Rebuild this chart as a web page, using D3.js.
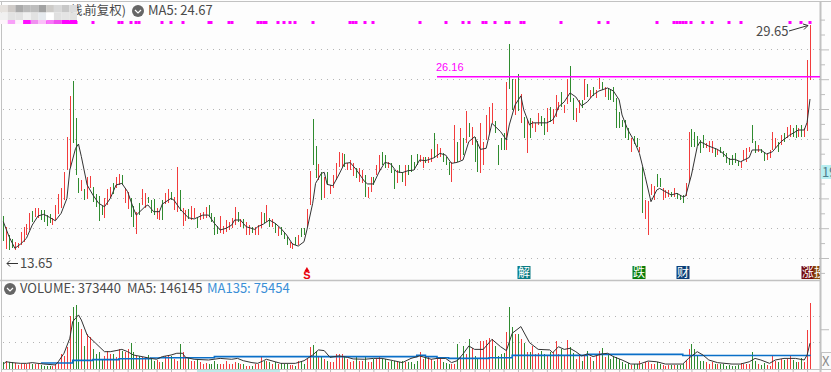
<!DOCTYPE html>
<html lang="zh">
<head>
<meta charset="utf-8">
<title>K-line</title>
<script src="https://d3js.org/d3.v7.min.js"></script>
<style>
  html, body { margin: 0; padding: 0; background: #fdfdfd; overflow: hidden; }
  svg { display: block; font-family: "Noto Sans CJK SC", "Noto Sans", sans-serif; }
  .axis path, .axis line { stroke: #bdbdbd; }
  .axis path { display: none; }
</style>
</head>
<body>
<svg id="chart" width="831" height="372"></svg>
<script>
// daily high / low
const highs = [
  16.82,16.06,15.54,15.25,15.09,14.98,15.77,16.06,16.28,17.04,
  17.18,17.33,17.33,17.22,17.22,16.88,16.93,16.66,17.56,18.29,
  18.67,19.75,22.14,24.88,25.89,23.40,19.35,19.23,18.61,19.46,
  19.50,18.79,18.29,18.16,17.49,18.00,18.63,18.79,19.01,19.46,
  19.64,19.57,18.67,18.45,18.00,17.49,17.11,17.71,18.61,18.34,
  18.11,17.89,17.94,17.33,17.18,17.89,18.38,18.63,18.45,18.07,
  20.08,18.56,17.33,17.22,17.26,17.49,17.33,16.66,17.00,17.11,
  17.40,17.56,17.00,16.73,16.15,16.82,16.15,16.55,16.44,16.66,
  17.40,17.11,16.59,16.59,16.44,16.21,16.10,16.06,16.21,17.11,
  17.00,17.56,16.66,16.59,16.33,16.10,
  16.06,15.77,15.43,15.09,14.98,15.39,15.54,16.03,16.03,
  17.26,19.86,23.33,21.51,20.28,19.79,19.46,19.79,18.90,19.57,
  20.35,21.09,21.02,20.98,20.35,20.58,20.40,20.02,20.02,19.90,
  19.57,18.79,19.46,19.46,20.24,20.91,21.09,20.91,20.46,
  20.40,19.90,19.90,20.24,19.79,20.24,20.24,20.91,20.46,
  20.96,20.91,20.80,20.75,20.75,21.29,22.37,21.63,21.36,
  21.02,20.80,20.46,20.46,22.92,21.81,22.70,22.03,23.87,
  23.09,22.77,22.14,21.87,23.09,21.81,23.60,24.14,24.41,23.20,
  21.58,22.03,22.37,25.82,28.37,26.02,26.02,26.35,25.01,
  23.47,23.27,23.40,23.20,23.07,23.74,23.54,23.40,24.07,
  24.14,24.00,24.95,24.48,
  25.15,24.27,26.02,26.89,24.74,24.07,24.61,24.61,26.02,25.68,
  25.28,25.48,25.28,26.09,25.82,25.48,25.41,25.28,25.48,24.74,
  23.80,23.27,23.26,22.70,22.03,22.19,22.03,21.47,20.13,17.89,
  17.85,18.94,18.83,19.61,19.35,18.67,18.56,18.56,18.45,18.72,
  18.38,18.23,18.23,19.05,22.48,22.63,22.48,22.19,21.92,22.25,
  21.74,21.87,21.87,21.36,21.29,21.47,21.20,21.02,20.69,20.91,
  21.02,20.53,20.53,21.25,21.36,21.43,22.92,21.87,21.58,21.29,
  21.13,21.02,21.25,22.48,22.03,21.81,22.25,22.37,22.81,22.92,
  22.70,22.92,22.70,22.92,22.70,27.29,29.65
];
const lows = [
  15.16,14.58,14.54,14.65,14.54,14.65,14.87,15.09,15.54,15.88,
  16.44,16.77,16.66,16.55,16.44,16.15,16.33,16.21,16.55,16.98,
  17.33,17.89,19.90,20.02,21.69,19.57,18.38,18.52,17.89,17.94,
  18.67,17.78,17.40,16.50,16.88,16.70,17.56,18.00,18.29,18.67,
  18.90,18.90,17.67,17.26,16.77,16.06,15.61,16.88,17.56,17.33,
  17.67,17.04,16.88,16.59,16.55,16.55,17.62,17.67,17.89,17.22,
  17.11,17.18,16.15,16.50,16.59,16.55,16.66,16.03,16.55,16.59,
  16.66,16.77,16.44,15.54,15.61,15.65,15.61,15.77,15.88,15.99,
  16.21,16.44,16.10,15.99,15.54,15.54,15.65,15.54,15.54,15.99,
  16.33,16.44,16.10,16.10,15.70,15.48,
  15.54,15.25,14.87,14.65,14.58,14.87,14.87,15.43,15.54,
  16.10,17.56,20.24,19.35,19.23,17.89,18.05,18.90,18.29,18.67,
  19.23,20.13,20.13,20.13,19.90,19.90,19.50,19.35,19.08,19.01,
  18.07,18.00,18.45,18.90,19.57,19.79,20.24,20.02,20.02,
  19.68,18.63,19.01,19.73,19.12,18.85,19.57,19.79,19.90,
  20.24,20.46,20.02,20.35,20.35,20.46,20.69,20.69,20.80,
  20.46,20.24,19.57,19.12,20.40,20.46,20.58,20.91,21.69,
  22.14,21.58,20.46,19.79,19.68,20.24,21.92,22.37,23.08,22.37,
  20.24,21.25,21.25,21.27,25.35,23.94,23.60,23.87,23.07,
  22.03,21.02,22.03,22.70,22.48,22.92,22.85,22.25,22.48,
  23.15,23.00,23.47,23.90,
  24.14,23.74,24.34,24.48,23.27,23.13,23.74,24.07,24.61,24.81,
  24.74,24.88,24.74,25.35,25.28,24.81,24.61,24.61,24.48,22.70,
  22.70,22.81,22.03,21.92,21.13,21.65,21.47,21.13,17.04,16.62,
  15.54,18.23,17.89,18.79,18.79,17.89,18.00,18.11,18.07,18.11,
  17.96,17.89,17.67,18.16,19.12,21.47,21.47,21.51,21.02,21.36,
  21.36,21.09,21.02,20.75,20.91,21.02,20.75,20.40,20.24,20.24,
  20.35,20.17,20.02,20.58,20.46,21.09,21.69,21.02,21.13,21.02,
  20.51,20.58,20.69,21.25,21.36,21.13,21.58,21.81,22.03,22.14,
  22.14,22.03,22.14,22.14,22.10,22.53,25.95
];
// 1 = red (up), 0 = green (down)
const ups = [
  0,1,0,0,1,1,1,1,1,1, 0,1,1,0,0,0,0,1,1,1, 1,1,1,1,0,0,0,1,0,1,
  1,0,0,0,0,1,1,1,0,1, 1,0,1,1,0,0,1,0,1,1, 0,0,0,1,1,0,1,1,0,1,
  1,0,1,1,0,1,1,0,1,1, 1,0,0,0,0,1,1,1,1,1, 1,0,1,0,1,1,0,1,1,1,
  0,1,0,1,0,1,
  0,0,0,1,1,0,1,0,0,
  1,1,0,0,1,0,1,0,1,1,
  1,1,1,0,1,1,1,0,1,1,
  0,1,1,0,1,1,0,0,1,
  0,0,1,0,0,1,0,0,0,
  0,1,1,0,1,1,0,1,1,
  0,0,0,1,1,0,1,0,1,
  0,1,0,0,1,1,1,1,1,0,
  0,0,0,1,0,0,1,0,1,
  0,1,0,1,1,1,0,0,1,
  0,1,1,1,
  0,1,1,0,0,1,1,0,1,0,
  1,0,1,1,0,1,0,0,0,0,
  0,0,0,0,1,0,0,1,0,1,
  1,1,1,0,0,1,1,1,0,1,
  0,0,0,1,1,0,0,0,0,0,
  1,1,1,0,1,0,0,0,0,0,
  0,0,1,1,1,1,0,0,1,0,
  0,1,1,1,1,0,1,0,1,1,
  0,0,1,0,1,1,1
];
// volume in thousands of shares
const volumes = [
  38,47,41,38,34,23,28,28,28,34, 26,30,26,23,19,15,19,19,28,41,
  85,75,123,302,349,362,264,226,132,198, 179,113,85,98,57,75,104,85,85,66,
  113,104,94,113,147,94,75,75,66,66, 79,57,47,53,38,41,72,79,75,57,
  47,141,98,66,60,47,47,57,41,28, 34,28,28,47,28,28,28,47,28,28,
  41,34,28,28,19,19,19,28,28,66, 47,47,38,28,38,28,34,28,26,23,
  23,19,47,47,28,57,123,136,104,75, 66,57,47,38,41,85,85,85,75,57,
  41,47,66,47,47,66,41,41,57,57, 75,57,57,41,47,47,41,41,47,41,
  38,38,28,47,94,57,66,72,57,47, 57,57,41,34,28,28,28,141,66,132,
  85,170,117,75,57,160,160,166,174,170, 132,75,85,91,207,349,236,198,198,170,
  147,94,94,132,85,91,104,85,72,94, 94,160,85,113,75,166,123,91,57,75,
  47,75,104,66,47,75,104,117,66,85, 57,75,66,57,38,28,34,23,28,28,
  47,28,41,41,26,26,38,28,23,19, 23,23,23,23,23,26,47,113,141,113,
  75,47,47,41,28,38,28,28,28,28, 19,23,19,19,23,34,28,28,28,94,
  47,28,23,34,23,19,72,47,41,57, 53,57,72,53,41,41,60,41,223,373.44
];
// moving average readings: bar number + value
const ma5Bars = [
  0,2,4,6,8,10,12,14,16,18,20,22,23,25,26,27,29,31,33,35,37,39,41,43,45,46,49,50,52,54,55,58,59,61,62,64,66,69,71,73,75,77,79,80,82,84,87,88,90,92,94,96,
  98,100,102,104,105,107,108,110,111,112,114,116,118,120,122,125,126,128,130,132,134,136,138,140,142,144,146,149,151,153,155,157,159,161,163,165,167,169,172,174,
  175,177,179,180,182,183,186,188,190,191,192,194,196,198,200,202,204,206,209,211,213,214,216,
  218,220,222,224,226,227,229,231,233,235,236,238,240,241,244,247,249,251,253,255,258,259,262,264,266,269,272,275,277,278,279
];
const ma5Values = [
  16.44,15.43,14.65,14.94,15.32,16.21,16.82,16.93,16.73,16.50,17.00,18.00,19.90,21.36,21.65,20.80,18.90,18.23,17.67,17.44,18.00,18.90,19.01,18.45,17.33,16.88,17.44,17.56,17.11,17.11,17.62,18.00,17.89,17.33,17.11,16.70,16.62,16.88,16.88,16.33,15.88,15.99,16.21,16.55,16.55,16.10,15.92,16.10,16.28,16.55,16.33,15.99,
  15.54,14.94,14.80,15.09,15.88,17.67,19.01,19.68,19.75,18.94,18.85,19.57,20.35,20.40,19.95,19.12,18.97,18.97,19.79,20.42,20.31,19.79,19.73,19.86,19.90,20.58,20.53,20.73,21.02,20.91,20.35,20.42,20.58,21.81,22.14,21.29,21.36,23.04,22.48,21.92,
  22.93,24.27,24.88,23.94,22.93,23.07,23.07,23.07,23.27,23.60,24.14,24.48,25.08,24.81,24.21,24.48,24.95,25.21,25.41,25.21,24.61,23.60,22.60,
  21.92,21.02,19.46,17.78,18.56,18.67,18.45,18.23,18.34,18.11,18.16,19.57,21.47,21.81,21.51,21.29,21.02,20.62,20.62,20.46,20.75,21.25,21.25,20.98,21.13,21.81,22.25,22.59,22.59,23.10,24.67
];
const volMa5Bars = [
  0,1,3,6,8,10,14,18,19,21,23,24,26,27,29,32,35,37,39,41,43,45,48,51,53,55,58,60,62,63,66,71,75,79,81,83,86,88,90,91,94,96,
  101,104,107,109,111,113,116,119,121,125,128,131,135,138,141,144,148,150,153,155,157,159,161,163,166,169,172,174,176,179,182,185,189,190,192,
  194,196,198,200,202,204,207,209,211,214,217,220,223,226,229,235,237,240,242,244,247,252,255,258,260,262,265,267,270,274,277,278,279
];
const volMa5Values = [
  28,41,36,32,32,36,28,23,41,89,174,268,306,277,192,145,98,98,104,111,98,79,70,60,55,70,79,89,89,66,55,51,60,55,60,47,36,32,47,55,41,32,
  32,47,79,108,104,66,74,66,57,55,60,60,47,36,60,74,55,60,60,36,47,85,130,111,111,168,126,104,202,240,149,111,108,92,126,
  111,117,98,74,85,70,85,89,70,51,28,28,45,41,28,28,60,98,79,51,36,28,28,41,60,51,32,51,60,60,51,79,146.145
];
const volMa135Bars = [13,24,31,40,51,54,73,143,146,150,154,168,176,202,235,279];
const volMa135Values = [34,49,53,58,62,64,70,77,70,64,60,64,77,83,76,75.454];

// magenta signal row
const signalBars = [
  8,9,13,14,15,16,17,18,22,23,24,25,31,40,41,44,46,47,55,58,62,71,72,78,79,88,89,90,91,95,97,99,101,107,
  120,121,122,125,128,144,153,159,161,166,167,170,174,175,179,180,193,206,209,226,232,233,234,235,236,238,242,245,251,255,272,276,279
];
// bottom event flags
const eventBars = [180, 220, 235, 278.2, 282.4];
const eventLabels = ['解', '跌', '财', '涨', '投'];
const eventColors = ['#0b7d85', '#0a7d0a', '#0c3f78', '#760c0c', '#8a4a08'];
const flagBar = 105;

const priceGrid = [14, 16, 18, 20, 22, 24, 26, 28];
const priceMinor = [13, 15, 17, 19, 21, 23, 25, 27, 29, 30];
const volGrid = [155, 300];
const mosaicColors = [
  ['#e6e2de','#cfcbc8','#aaaaaa','#bbbbbb','#bdbdbd','#a2a2a2','#cdcbc8','#d8d8d8','#c8c8c8','#dcdcdc'],
  ['#f0f0f0','#e2e2e2','#e2e2e2','#f0f0f0','#e2e2e2','#e6eaee','#ffffff','#e0e0e0','#e4e4e4','#e2e2e0'],
  ['#fdf4fb','#f8a0f8','#fdf4fb','#ff10ff','#f090f0','#fbc0f8','#f878f8','#f050f0','#ff00ff','#ff00ff']
];

const RED = '#f23c3c', GREEN = '#2f8b2f', MAGENTA = '#ff00ff', TXT = '#4a4a4a', LINE = '#c2c2c2';

const svg = d3.select('#chart');
const n = highs.length;
const plotRight = 820;

const x = d3.scalePoint().domain(d3.range(n)).range([3.3, 810]);
const xAt = k => x(0) + k * x.step();
// 14.9 px per yuan, 14 sits at y=258
const y = d3.scaleLinear().domain([14, 28]).range([258, 49.4]);
const yVol = d3.scaleLinear().domain([0, 373.44]).range([369, 303]);

svg.append('defs').append('clipPath').attr('id', 'plotClip')
  .append('rect').attr('x', 0).attr('y', 0).attr('width', plotRight).attr('height', 372);

// frame
svg.append('line').attr('x1', 0).attr('x2', 831).attr('y1', 1.5).attr('y2', 1.5).attr('stroke', LINE);
svg.append('line').attr('x1', 1.5).attr('x2', 1.5).attr('y1', 1).attr('y2', 372).attr('stroke', LINE);
svg.append('line').attr('x1', 0).attr('x2', plotRight).attr('y1', 280.5).attr('y2', 280.5).attr('stroke', LINE).attr('stroke-width', 1.5);
svg.append('line').attr('x1', 2).attr('x2', plotRight).attr('y1', 369.5).attr('y2', 369.5).attr('stroke', LINE);
svg.append('line').attr('x1', plotRight + .5).attr('x2', plotRight + .5).attr('y1', 1).attr('y2', 372).attr('stroke', LINE).attr('stroke-width', 2);

// dotted grid
const grid = svg.append('g').attr('stroke', '#b4b4b4').attr('stroke-dasharray', '1,5');
grid.selectAll('.p').data(priceGrid).enter().append('line').attr('class', 'p')
  .attr('x1', 3).attr('x2', plotRight)
  .attr('y1', d => Math.round(y(d)) + .5).attr('y2', d => Math.round(y(d)) + .5);
grid.selectAll('.v').data(volGrid).enter().append('line').attr('class', 'v')
  .attr('x1', 3).attr('x2', plotRight)
  .attr('y1', d => Math.round(yVol(d)) + .5).attr('y2', d => Math.round(yVol(d)) + .5);

// right and bottom ticks
svg.append('g').attr('class', 'axis').attr('transform', `translate(${plotRight},0)`)
  .call(d3.axisRight(y).tickValues(priceGrid).tickSize(9).tickFormat(''));
svg.append('g').attr('class', 'axis').attr('transform', `translate(${plotRight},0)`)
  .call(d3.axisRight(y).tickValues(priceMinor).tickSize(5).tickFormat(''));
svg.append('g').attr('class', 'axis').attr('transform', `translate(${plotRight},0)`)
  .call(d3.axisRight(yVol).tickValues([225]).tickSize(9).tickFormat(''));
svg.append('g').attr('class', 'axis').attr('transform', 'translate(0,369)')
  .call(d3.axisBottom(x).tickValues(d3.range(3, n, 5)).tickSize(3).tickFormat(''));
svg.append('rect').attr('x', 197).attr('y', 370).attr('width', 83).attr('height', 2).attr('fill', '#bdeaea');

// magenta signal row
svg.append('g').selectAll('rect').data(signalBars).enter().append('rect')
  .attr('x', d => Math.round(x(d)) - 1.5).attr('y', 21).attr('width', 3).attr('height', 3)
  .attr('fill', MAGENTA);

// price bars
svg.append('g').attr('shape-rendering', 'crispEdges').selectAll('rect').data(d3.range(n)).enter().append('rect')
  .attr('x', d => Math.round(x(d)))
  .attr('y', d => y(highs[d]))
  .attr('width', 1)
  .attr('height', d => y(lows[d]) - y(highs[d]))
  .attr('fill', d => ups[d] ? RED : GREEN);

// MA5 of the price
svg.append('path').datum(ma5Bars)
  .attr('fill', 'none').attr('stroke', '#333').attr('stroke-width', 1)
  .attr('d', d3.line().x(d => x(d)).y((d, i) => y(ma5Values[i])));

// high line and its label
svg.append('rect')
  .attr('x', 437).attr('width', plotRight - 437)
  .attr('y', Math.floor(y(26.16))).attr('height', 1.5)
  .attr('fill', MAGENTA);
svg.append('text').attr('x', 436).attr('y', 71).attr('fill', MAGENTA)
  .attr('font-family', 'Liberation Sans').attr('font-size', 11).text('26.16');

// high / low callouts
svg.append('text').attr('x', 756).attr('y', 36).attr('fill', TXT).attr('font-size', 13).text('29.65');
svg.append('path').attr('fill', 'none').attr('stroke', '#333')
  .attr('d', 'M789,31L808,25.5M803,24L808,25.5L804,29.5');
svg.append('text').attr('x', 20).attr('y', 268).attr('fill', TXT).attr('font-size', 13).text('13.65');
svg.append('path').attr('fill', 'none').attr('stroke', '#333')
  .attr('d', 'M18,263.5H7M10,260.5L7,263.5L10,266.5');

// S flag
svg.append('text').attr('x', x(flagBar)).attr('y', 279).attr('text-anchor', 'middle')
  .attr('fill', '#e8000b').attr('font-size', 11).attr('font-weight', 'bold')
  .attr('font-family', 'Liberation Sans').text('S');
svg.append('path').attr('fill', '#e8000b')
  .attr('d', d3.symbol().type(d3.symbolTriangle).size(12)())
  .attr('transform', `translate(${x(flagBar)},270)`);

// event flags
const flags = svg.append('g').attr('clip-path', 'url(#plotClip)').selectAll('g')
  .data(eventBars).enter().append('g')
  .attr('transform', d => `translate(${Math.round(xAt(d))},0)`);
flags.append('rect').attr('x', -6.5).attr('y', 266).attr('width', 13).attr('height', 13)
  .attr('fill', (d, i) => eventColors[i]);
flags.append('text').attr('y', 277).attr('text-anchor', 'middle').attr('fill', '#fff')
  .attr('font-size', 12).text((d, i) => eventLabels[i]);

// volume bars
svg.append('g').attr('shape-rendering', 'crispEdges').selectAll('rect').data(d3.range(n)).enter().append('rect')
  .attr('x', d => Math.round(x(d)))
  .attr('y', d => yVol(volumes[d]))
  .attr('width', 1)
  .attr('height', d => yVol(0) - yVol(volumes[d]))
  .attr('fill', d => ups[d] ? RED : GREEN);

svg.append('path').datum(volMa135Bars)
  .attr('fill', 'none').attr('stroke', '#0a6fc8').attr('stroke-width', 1.6)
  .attr('d', d3.line().curve(d3.curveStepAfter).x(d => x(d)).y((d, i) => yVol(volMa135Values[i])));
svg.append('path').datum(volMa5Bars)
  .attr('fill', 'none').attr('stroke', '#333').attr('stroke-width', 1)
  .attr('d', d3.line().x(d => x(d)).y((d, i) => yVol(volMa5Values[i])));

// legend row, top (title is pixelated in the source)
svg.append('text').attr('x', 126).attr('y', 15).attr('text-anchor', 'end').attr('fill', TXT)
  .attr('font-size', 12.5).text('前复权)');
svg.append('text').attr('x', 86).attr('y', 15).attr('text-anchor', 'end').attr('fill', TXT)
  .attr('font-size', 12.5).text('线.');
svg.append('g').selectAll('g').data(mosaicColors).enter().append('g')
  .each(function (row, r) {
    d3.select(this).selectAll('rect').data(row).enter().append('rect')
      .attr('x', (d, c) => c * 7.7).attr('y', 5 + r * 7.5)
      .attr('width', 7.7).attr('height', r === 2 ? 4 : 7.5)
      .attr('fill', d => d);
  });

function chevron(cx, cy) {
  svg.append('circle').attr('cx', cx).attr('cy', cy).attr('r', 6).attr('fill', '#666');
  svg.append('path').attr('fill', 'none').attr('stroke', '#fff').attr('stroke-width', 1.2)
    .attr('d', `M${cx - 3},${cy - 1}L${cx},${cy + 2}L${cx + 3},${cy - 1}`);
}
chevron(138, 11);
svg.append('text').attr('x', 148).attr('y', 15).attr('fill', TXT).attr('font-size', 13).text('MA5: 24.67');

// legend row, volume
chevron(10, 289);
svg.append('text').attr('x', 20).attr('y', 293).attr('fill', TXT).attr('font-size', 13).text('VOLUME: 373440');
svg.append('text').attr('x', 127).attr('y', 293).attr('fill', TXT).attr('font-size', 13).text('MA5: 146145');
svg.append('text').attr('x', 207).attr('y', 293).attr('fill', '#3a8fd6').attr('font-size', 13).text('MA135: 75454');

// price tag cut off by the window and the close box
svg.append('rect').attr('x', 821).attr('y', 165).attr('width', 10).attr('height', 14).attr('fill', '#b8eef0');
svg.append('text').attr('x', 822).attr('y', 177).attr('fill', '#4f7f8c').attr('font-size', 13).text('19');
svg.append('rect').attr('x', 821.5).attr('y', 352.5).attr('width', 10).attr('height', 17)
  .attr('fill', '#fafafa').attr('stroke', LINE);
svg.append('text').attr('x', 822).attr('y', 366).attr('fill', '#8a8a8a').attr('font-size', 13).text('X');
</script>
</body>
</html>
